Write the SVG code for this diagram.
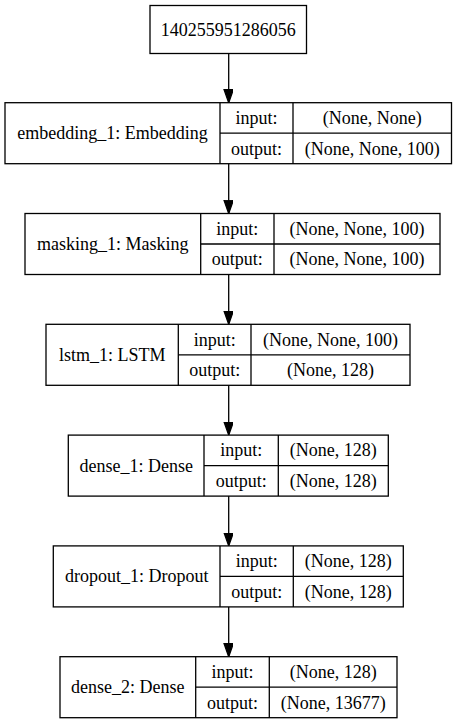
<svg xmlns="http://www.w3.org/2000/svg" width="457" height="724" viewBox="0 0 457 724">
  <style>
    .box { fill: #ffffff; stroke: #000000; stroke-width: 1.3; }
    .sep { stroke: #000000; stroke-width: 1.3; fill: none; }
    .edge { stroke: #000000; stroke-width: 1.3; fill: none; }
    .head { fill: #000000; stroke: #000000; stroke-width: 1.3; }
    text { font-family: "Liberation Serif", "Times New Roman", serif; font-size: 18px; fill: #000000; text-anchor: middle; }
  </style>
  <defs>
    <marker id="arrow" markerUnits="userSpaceOnUse" markerWidth="16" markerHeight="12" refX="13.3" refY="4.7" orient="auto">
      <polygon class="head" points="0,0 13.3,4.7 0,9.4"/>
    </marker>
  </defs>
  <rect width="457" height="724" fill="#ffffff"/>

  <!-- connectors -->
  <g id="edges">
    <line class="edge" x1="228.7" y1="53.5" x2="228.7" y2="102.7" marker-end="url(#arrow)"/>
    <line class="edge" x1="228.7" y1="163.7" x2="228.7" y2="213.5" marker-end="url(#arrow)"/>
    <line class="edge" x1="228.7" y1="274.5" x2="228.7" y2="324.3" marker-end="url(#arrow)"/>
    <line class="edge" x1="228.7" y1="385.3" x2="228.7" y2="435.1" marker-end="url(#arrow)"/>
    <line class="edge" x1="228.7" y1="496.1" x2="228.7" y2="545.9" marker-end="url(#arrow)"/>
    <line class="edge" x1="228.7" y1="606.9" x2="228.7" y2="656.7" marker-end="url(#arrow)"/>
  </g>

  <!-- input node -->
  <g id="input_node">
    <rect class="box" x="150" y="5.5" width="156.5" height="48"/>
    <text x="228.2" y="35.5">140255951286056</text>
  </g>

  <!-- embedding_1 -->
  <g id="embedding_1">
    <rect class="box" x="5" y="102.7" width="446.5" height="61"/>
    <line class="sep" x1="220" y1="102.7" x2="220" y2="163.7"/>
    <line class="sep" x1="293" y1="102.7" x2="293" y2="163.7"/>
    <line class="sep" x1="220" y1="133.2" x2="451.5" y2="133.2"/>
    <text x="112.5" y="139.2">embedding_1: Embedding</text>
    <text x="256.5" y="124">input:</text>
    <text x="256.5" y="154.5">output:</text>
    <text x="372.2" y="124">(None, None)</text>
    <text x="372.2" y="154.5">(None, None, 100)</text>
  </g>

  <!-- masking_1 -->
  <g id="masking_1">
    <rect class="box" x="25" y="213.5" width="415" height="61"/>
    <line class="sep" x1="200.7" y1="213.5" x2="200.7" y2="274.5"/>
    <line class="sep" x1="274" y1="213.5" x2="274" y2="274.5"/>
    <line class="sep" x1="200.7" y1="244" x2="440" y2="244"/>
    <text x="112.8" y="250">masking_1: Masking</text>
    <text x="237.3" y="234.8">input:</text>
    <text x="237.3" y="265.3">output:</text>
    <text x="357" y="234.8">(None, None, 100)</text>
    <text x="357" y="265.3">(None, None, 100)</text>
  </g>

  <!-- lstm_1 -->
  <g id="lstm_1">
    <rect class="box" x="46" y="324.3" width="364" height="61"/>
    <line class="sep" x1="178.3" y1="324.3" x2="178.3" y2="385.3"/>
    <line class="sep" x1="251" y1="324.3" x2="251" y2="385.3"/>
    <line class="sep" x1="178.3" y1="354.8" x2="410" y2="354.8"/>
    <text x="112.2" y="360.8">lstm_1: LSTM</text>
    <text x="214.7" y="345.6">input:</text>
    <text x="214.7" y="376.1">output:</text>
    <text x="330.5" y="345.6">(None, None, 100)</text>
    <text x="330.5" y="376.1">(None, 128)</text>
  </g>

  <!-- dense_1 -->
  <g id="dense_1">
    <rect class="box" x="68.3" y="435.1" width="320" height="61"/>
    <line class="sep" x1="204" y1="435.1" x2="204" y2="496.1"/>
    <line class="sep" x1="278.3" y1="435.1" x2="278.3" y2="496.1"/>
    <line class="sep" x1="204" y1="465.6" x2="388.3" y2="465.6"/>
    <text x="136.2" y="471.6">dense_1: Dense</text>
    <text x="241.2" y="456.4">input:</text>
    <text x="241.2" y="486.9">output:</text>
    <text x="333.3" y="456.4">(None, 128)</text>
    <text x="333.3" y="486.9">(None, 128)</text>
  </g>

  <!-- dropout_1 -->
  <g id="dropout_1">
    <rect class="box" x="53.3" y="545.9" width="350" height="61"/>
    <line class="sep" x1="220" y1="545.9" x2="220" y2="606.9"/>
    <line class="sep" x1="293.3" y1="545.9" x2="293.3" y2="606.9"/>
    <line class="sep" x1="220" y1="576.4" x2="403.3" y2="576.4"/>
    <text x="136.7" y="582.4">dropout_1: Dropout</text>
    <text x="256.7" y="567.2">input:</text>
    <text x="256.7" y="597.7">output:</text>
    <text x="348.3" y="567.2">(None, 128)</text>
    <text x="348.3" y="597.7">(None, 128)</text>
  </g>

  <!-- dense_2 -->
  <g id="dense_2">
    <rect class="box" x="60" y="656.7" width="337" height="61"/>
    <line class="sep" x1="195.7" y1="656.7" x2="195.7" y2="717.7"/>
    <line class="sep" x1="269.3" y1="656.7" x2="269.3" y2="717.7"/>
    <line class="sep" x1="195.7" y1="687.2" x2="397" y2="687.2"/>
    <text x="127.8" y="693.2">dense_2: Dense</text>
    <text x="232.5" y="678">input:</text>
    <text x="232.5" y="708.5">output:</text>
    <text x="333.2" y="678">(None, 128)</text>
    <text x="333.2" y="708.5">(None, 13677)</text>
  </g>
</svg>
